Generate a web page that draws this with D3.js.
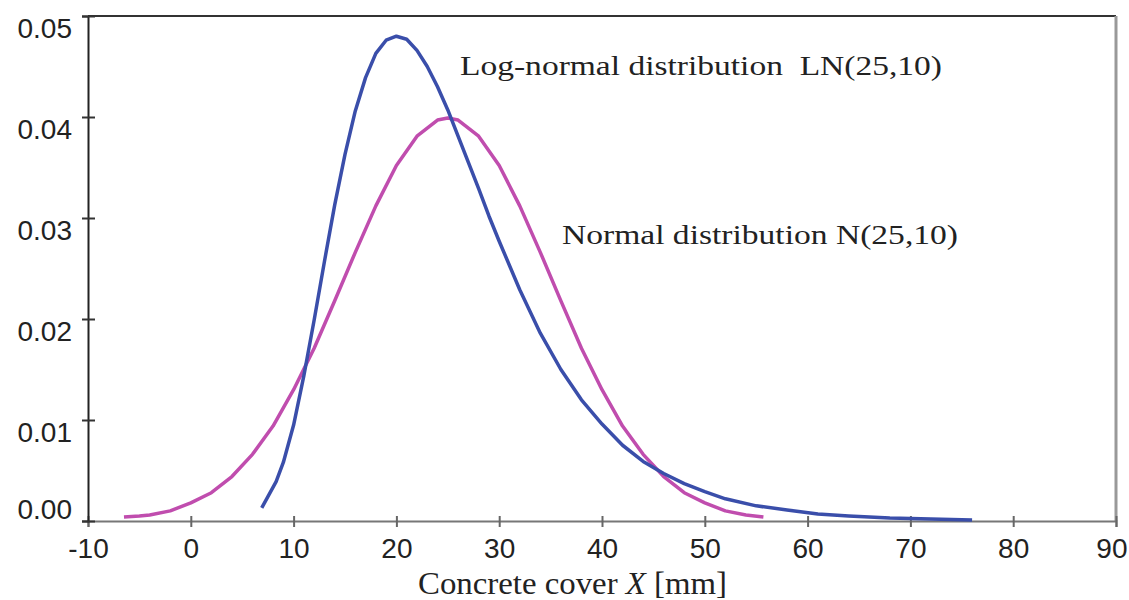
<!DOCTYPE html>
<html>
<head>
<meta charset="utf-8">
<script src="https://cdn.jsdelivr.net/npm/d3@7"></script>
<style>
  body { margin: 0; background: #fff; }
  .tick text { font-family: "Liberation Sans", Arial, sans-serif; font-size: 28px; fill: #222; }
  .serif { font-family: "Liberation Serif", "Times New Roman", serif; fill: #222; }
</style>
</head>
<body>
<script>
// 混凝土保护层厚度分布

// 对数正态分布 LN(25,10) 读数
let lnX = [6.9, 8.3, 9, 10, 11, 12, 13, 14, 15, 16, 17, 18, 19, 20, 21, 22, 23, 24, 25, 26, 27, 28, 29, 30, 32, 34, 36, 38, 40, 42, 44, 46, 48, 50, 52, 55, 58, 61, 64, 68, 72, 76]
let lnY = [0.0013, 0.0039, 0.0058, 0.0095, 0.0144, 0.0199, 0.0257, 0.0313, 0.0363, 0.0406, 0.0439, 0.0463, 0.0476, 0.0480, 0.0477, 0.0466, 0.0450, 0.0430, 0.0407, 0.0381, 0.0355, 0.0329, 0.0302, 0.0277, 0.0229, 0.0186, 0.0150, 0.0120, 0.0096, 0.0075, 0.0059, 0.0047, 0.0037, 0.0029, 0.0022, 0.0015, 0.0011, 0.0007, 0.0005, 0.0003, 0.0002, 0.0001]

// 正态分布 N(25,10) 读数
let nX = [-6.5, -5, -4, -2, 0, 2, 4, 6, 8, 10, 12, 14, 16, 18, 20, 22, 24, 25, 26, 28, 30, 32, 34, 36, 38, 40, 42, 44, 46, 48, 50, 52, 54, 55.7]
let nY = [0.0004, 0.0005, 0.0006, 0.0010, 0.0018, 0.0028, 0.0044, 0.0066, 0.0094, 0.0130, 0.0171, 0.0218, 0.0266, 0.0312, 0.0352, 0.0381, 0.0397, 0.0399, 0.0397, 0.0381, 0.0352, 0.0312, 0.0266, 0.0218, 0.0171, 0.0130, 0.0094, 0.0066, 0.0044, 0.0028, 0.0018, 0.0010, 0.0006, 0.0004]

let xTicks = [-10, 0, 10, 20, 30, 40, 50, 60, 70, 80, 90]
let yTicks = [0, 0.01, 0.02, 0.03, 0.04, 0.05]

let Width = 1129
let Height = 600
let plotLeft = 88, plotRight = 1116, plotTop = 16, plotBottom = 521

let svg = d3.select('body')
  .append('svg')
  .attr('width', Width)
  .attr('height', Height)

// 比例尺
let xScale = d3.scaleLinear().domain([-10, 90]).range([plotLeft, plotRight])
let yScale = d3.scaleLinear().domain([0, 0.05]).range([plotBottom, plotTop])

// 上边框和右边框
svg.append('line')
  .attr('x1', plotLeft).attr('x2', plotRight).attr('y1', plotTop).attr('y2', plotTop)
  .attr('stroke', '#333').attr('stroke-width', 2)
svg.append('line')
  .attr('x1', plotRight).attr('x2', plotRight).attr('y1', plotTop).attr('y2', plotBottom)
  .attr('stroke', '#999').attr('stroke-width', 3)

// x轴
let xAxis = svg.append('g')
  .attr('transform', 'translate(0,' + plotBottom + ')')
  .call(d3.axisBottom(xScale).tickValues(xTicks).tickFormat(d => String(d)).tickSize(6).tickPadding(10))
xAxis.select('.domain').attr('stroke', '#777').attr('stroke-width', 2)
xAxis.selectAll('.tick line').attr('y1', -5).attr('y2', 6).attr('stroke', '#666').attr('stroke-width', 2)
xAxis.selectAll('.tick text').attr('y', 37).attr('dy', 0)
// 最后一个刻度标签贴右边缘
xAxis.selectAll('.tick text').filter(d => d === 90)
  .attr('text-anchor', 'end').attr('x', 11)

// y轴
let yAxis = svg.append('g')
  .attr('transform', 'translate(' + plotLeft + ',0)')
  .call(d3.axisLeft(yScale).tickValues(yTicks).tickFormat(d3.format('.2f')).tickSize(6))
yAxis.select('.domain').attr('stroke', '#222').attr('stroke-width', 2)
yAxis.selectAll('.tick line').attr('x1', -6).attr('x2', 7).attr('stroke', '#333').attr('stroke-width', 2)
yAxis.selectAll('.tick text')
  .attr('x', -16)
  .attr('dy', d => d === 0 ? '-3px' : '21px')

// 曲线
let line = d3.line()
  .x(d => xScale(d[0]))
  .y(d => yScale(d[1]))
  .curve(d3.curveLinear)

svg.append('path')
  .attr('d', line(nX.map((v, i) => [v, nY[i]])))
  .attr('stroke', '#c04dae')
  .attr('stroke-width', 3.5)
  .attr('fill', 'none')
  .attr('stroke-linejoin', 'round')

svg.append('path')
  .attr('d', line(lnX.map((v, i) => [v, lnY[i]])))
  .attr('stroke', '#3a4eaa')
  .attr('stroke-width', 3.5)
  .attr('fill', 'none')
  .attr('stroke-linejoin', 'round')

// 标注
svg.append('text')
  .attr('class', 'serif')
  .attr('x', 460).attr('y', 75)
  .attr('font-size', 28)
  .attr('textLength', 482).attr('lengthAdjust', 'spacingAndGlyphs')
  .attr('xml:space', 'preserve')
  .text('Log-normal distribution  LN(25,10)')

svg.append('text')
  .attr('class', 'serif')
  .attr('x', 562).attr('y', 244)
  .attr('font-size', 28)
  .attr('textLength', 396).attr('lengthAdjust', 'spacingAndGlyphs')
  .text('Normal distribution N(25,10)')

// x轴标题
let title = svg.append('text')
  .attr('class', 'serif')
  .attr('x', 418).attr('y', 594)
  .attr('font-size', 32)
  .attr('textLength', 309).attr('lengthAdjust', 'spacingAndGlyphs')
title.append('tspan').text('Concrete cover ')
title.append('tspan').attr('font-style', 'italic').text('X')
title.append('tspan').text(' [mm]')
</script>
</body>
</html>
